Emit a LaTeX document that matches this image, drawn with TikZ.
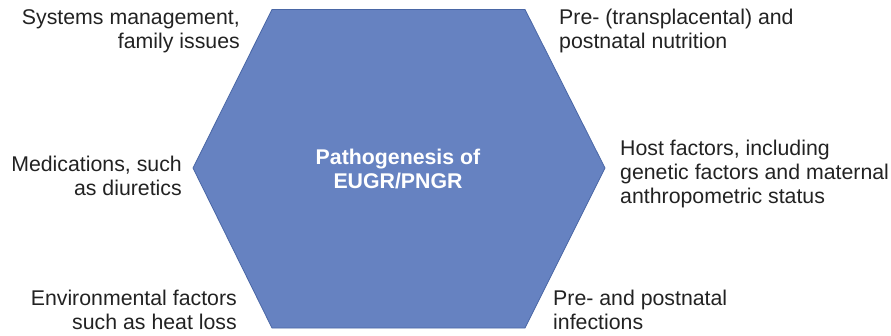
\documentclass[tikz,border=0pt]{standalone}
\usepackage{fontspec}
\setmainfont{Liberation Sans}
\definecolor{hexfill}{HTML}{6682C1}
\definecolor{hexline}{HTML}{4A67A6}
\definecolor{txt}{HTML}{222222}
\begin{document}
\begin{tikzpicture}[x=1pt,y=-1pt,
  lbl/.style={font=\fontsize{21.3}{24}\selectfont, text=txt, inner sep=0pt},
  lblL/.style={lbl, align=left, anchor=west},
  lblR/.style={lbl, align=right, anchor=east},
  hexshape/.style={draw=hexline, fill=hexfill, line width=0.8pt, line join=miter}]
\useasboundingbox (0,0) rectangle (891,335);
\coordinate (tl) at (272,9.5);
\coordinate (tr) at (525,9.5);
\coordinate (r)  at (605,168);
\coordinate (br) at (525,328);
\coordinate (bl) at (272,328);
\coordinate (l)  at (193,168);
\draw[hexshape] (tl) -- (tr) -- (r) -- (br) -- (bl) -- (l) -- cycle;
\node[font=\fontsize{21.3}{24}\selectfont\bfseries, text=white, align=center, inner sep=0pt] (center) at (398,169) {Pathogenesis of\\EUGR/PNGR};
\node[lblR] (sys) at (240,31) {Systems management,\\family issues};
\node[lblR] (med) at (182,176) {Medications, such\\as diuretics};
\node[lblR] (env) at (237,310) {Environmental factors\\such as heat loss};
\node[lblL] (nut) at (559,31) {Pre- (transplacental) and\\postnatal nutrition};
\node[lblL] (host) at (620,173.5) {Host factors, including\\genetic factors and maternal\\anthropometric status};
\node[lblL] (inf) at (553,310) {Pre- and postnatal\\infections};
\end{tikzpicture}
\end{document}
